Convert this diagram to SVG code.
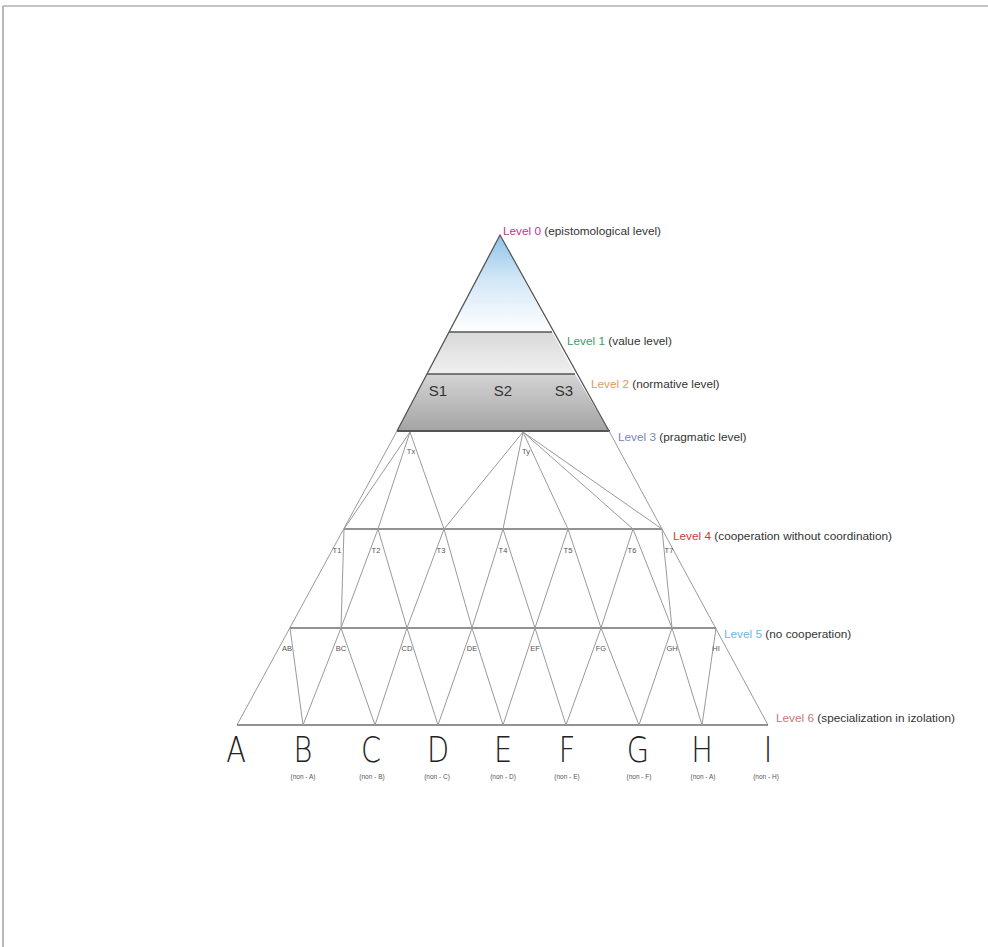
<svg xmlns="http://www.w3.org/2000/svg" width="988" height="947" viewBox="0 0 988 947">
<defs>
<linearGradient id="gTop" x1="0" y1="235" x2="0" y2="332" gradientUnits="userSpaceOnUse">
<stop offset="0" stop-color="#8fc3ea"/><stop offset="0.45" stop-color="#d2e7f6"/><stop offset="1" stop-color="#ffffff"/>
</linearGradient>
<linearGradient id="gL1" x1="0" y1="332" x2="0" y2="374" gradientUnits="userSpaceOnUse">
<stop offset="0" stop-color="#d9d9d9"/><stop offset="1" stop-color="#f0f0f0"/>
</linearGradient>
<linearGradient id="gL2" x1="0" y1="374" x2="0" y2="431" gradientUnits="userSpaceOnUse">
<stop offset="0" stop-color="#d4d4d4"/><stop offset="1" stop-color="#a4a4a4"/>
</linearGradient>
<style>
.edge{stroke:#555;stroke-width:1.3;fill:none}
.net{stroke:#9a9a9a;stroke-width:1;fill:none}
.lvl{stroke:#6e6e6e;stroke-width:1.6;fill:none}
.lab{font-family:"Liberation Sans",Arial,sans-serif;font-size:11.8px;fill:#333}
.node{font-family:"Liberation Sans",Arial,sans-serif;font-size:7.5px;fill:#555;text-anchor:middle}
.s{font-family:"Liberation Sans",Arial,sans-serif;font-size:15px;fill:#333;text-anchor:middle}
.big{font-family:"DejaVu Sans","Liberation Sans",sans-serif;font-size:36px;font-weight:300;fill:#222;text-anchor:middle}
.non{font-family:"Liberation Sans",Arial,sans-serif;font-size:6.5px;fill:#555;text-anchor:middle}
</style>
</defs>
<rect x="0" y="0" width="988" height="947" fill="#ffffff"/>
<g id="frame"><line x1="3" y1="6" x2="988" y2="6" stroke="#8a8a8a" stroke-width="1.2"/><line x1="3" y1="6" x2="3" y2="947" stroke="#8a8a8a" stroke-width="1.2"/></g>

<g id="level0"><polygon points="500,235 449,332 552,332" fill="url(#gTop)"/></g>
<g id="level1"><polygon points="449,332 552,332 575,374 427,374" fill="url(#gL1)"/></g>
<g id="level2"><polygon points="427,374 575,374 609,431 397,431" fill="url(#gL2)"/>
<text class="s" x="438" y="396">S1</text><text class="s" x="503" y="396">S2</text><text class="s" x="564" y="396">S3</text></g>

<g id="connectors">
<polyline class="edge" points="397,431 500,235 609,431"/>
<line class="edge" x1="449" y1="332" x2="552" y2="332"/>
<line class="edge" x1="427" y1="374" x2="575" y2="374"/>
<line x1="397" y1="431" x2="610" y2="431" stroke="#555" stroke-width="2.2"/>
<line class="net" x1="397" y1="431" x2="237" y2="725"/>
<line class="net" x1="609" y1="431" x2="768" y2="725"/>
<line class="lvl" x1="344" y1="529" x2="662" y2="529"/>
<line class="lvl" x1="290" y1="628" x2="716" y2="628"/>
<line class="lvl" x1="237" y1="725" x2="768" y2="725"/>
<line class="net" x1="410" y1="432" x2="344" y2="529"/>
<line class="net" x1="410" y1="432" x2="378" y2="529"/>
<line class="net" x1="410" y1="432" x2="444" y2="529"/>
<line class="net" x1="523" y1="432" x2="444" y2="529"/>
<line class="net" x1="523" y1="432" x2="503" y2="529"/>
<line class="net" x1="523" y1="432" x2="568" y2="529"/>
<line class="net" x1="523" y1="432" x2="633" y2="529"/>
<line class="net" x1="523" y1="432" x2="662" y2="529"/>
<line class="net" x1="344" y1="529" x2="341" y2="628"/>
<line class="net" x1="378" y1="529" x2="341" y2="628"/>
<line class="net" x1="378" y1="529" x2="407" y2="628"/>
<line class="net" x1="444" y1="529" x2="407" y2="628"/>
<line class="net" x1="444" y1="529" x2="472" y2="628"/>
<line class="net" x1="503" y1="529" x2="472" y2="628"/>
<line class="net" x1="503" y1="529" x2="535" y2="628"/>
<line class="net" x1="568" y1="529" x2="535" y2="628"/>
<line class="net" x1="568" y1="529" x2="601" y2="628"/>
<line class="net" x1="633" y1="529" x2="601" y2="628"/>
<line class="net" x1="633" y1="529" x2="672" y2="628"/>
<line class="net" x1="662" y1="529" x2="672" y2="628"/>
<line class="net" x1="290" y1="628" x2="303" y2="725"/>
<line class="net" x1="341" y1="628" x2="303" y2="725"/>
<line class="net" x1="341" y1="628" x2="375" y2="725"/>
<line class="net" x1="407" y1="628" x2="375" y2="725"/>
<line class="net" x1="407" y1="628" x2="438" y2="725"/>
<line class="net" x1="472" y1="628" x2="438" y2="725"/>
<line class="net" x1="472" y1="628" x2="503" y2="725"/>
<line class="net" x1="535" y1="628" x2="503" y2="725"/>
<line class="net" x1="535" y1="628" x2="566" y2="725"/>
<line class="net" x1="601" y1="628" x2="566" y2="725"/>
<line class="net" x1="601" y1="628" x2="639" y2="725"/>
<line class="net" x1="672" y1="628" x2="639" y2="725"/>
<line class="net" x1="672" y1="628" x2="702" y2="725"/>
<line class="net" x1="716" y1="628" x2="702" y2="725"/>
</g>

<g id="labels">
<text class="lab" x="503" y="235"><tspan fill="#c2358f">Level 0</tspan> (epistomological level)</text>
<text class="lab" x="567" y="345"><tspan fill="#3a9d6a">Level 1</tspan> (value level)</text>
<text class="lab" x="591" y="388"><tspan fill="#e39a55">Level 2</tspan> (normative level)</text>
<text class="lab" x="618" y="441"><tspan fill="#7a86b4">Level 3</tspan> (pragmatic level)</text>
<text class="lab" x="673" y="540"><tspan fill="#d23a3a">Level 4</tspan> (cooperation without coordination)</text>
<text class="lab" x="724" y="638"><tspan fill="#6ab8e2">Level 5</tspan> (no cooperation)</text>
<text class="lab" x="776" y="722"><tspan fill="#c07a7a">Level 6</tspan> (specialization in izolation)</text>
</g>

<g id="nodesT">
<text class="node" x="411" y="454">Tx</text>
<text class="node" x="526" y="454">Ty</text>
<text class="node" x="337" y="553">T1</text>
<text class="node" x="376" y="553">T2</text>
<text class="node" x="441" y="553">T3</text>
<text class="node" x="503" y="553">T4</text>
<text class="node" x="568" y="553">T5</text>
<text class="node" x="632" y="553">T6</text>
<text class="node" x="669" y="553">T7</text>
</g>
<g id="nodesPairs">
<text class="node" x="287" y="651">AB</text>
<text class="node" x="341" y="651">BC</text>
<text class="node" x="407" y="651">CD</text>
<text class="node" x="472" y="651">DE</text>
<text class="node" x="535" y="651">EF</text>
<text class="node" x="601" y="651">FG</text>
<text class="node" x="672" y="651">GH</text>
<text class="node" x="716" y="651">HI</text>
</g>
<g id="letters">
<text class="big" transform="translate(236,762) scale(0.8,1)">A</text>
<text class="big" transform="translate(303,762) scale(0.8,1)">B</text>
<text class="big" transform="translate(371,762) scale(0.8,1)">C</text>
<text class="big" transform="translate(438,762) scale(0.8,1)">D</text>
<text class="big" transform="translate(503,762) scale(0.8,1)">E</text>
<text class="big" transform="translate(567,762) scale(0.8,1)">F</text>
<text class="big" transform="translate(638,762) scale(0.8,1)">G</text>
<text class="big" transform="translate(702,762) scale(0.8,1)">H</text>
<text class="big" transform="translate(768,762) scale(0.8,1)">I</text>
<text class="non" x="303" y="779">(non - A)</text>
<text class="non" x="372" y="779">(non - B)</text>
<text class="non" x="437" y="779">(non - C)</text>
<text class="non" x="503" y="779">(non - D)</text>
<text class="non" x="567" y="779">(non - E)</text>
<text class="non" x="639" y="779">(non - F)</text>
<text class="non" x="703" y="779">(non - A)</text>
<text class="non" x="766" y="779">(non - H)</text>
</g>
</svg>
